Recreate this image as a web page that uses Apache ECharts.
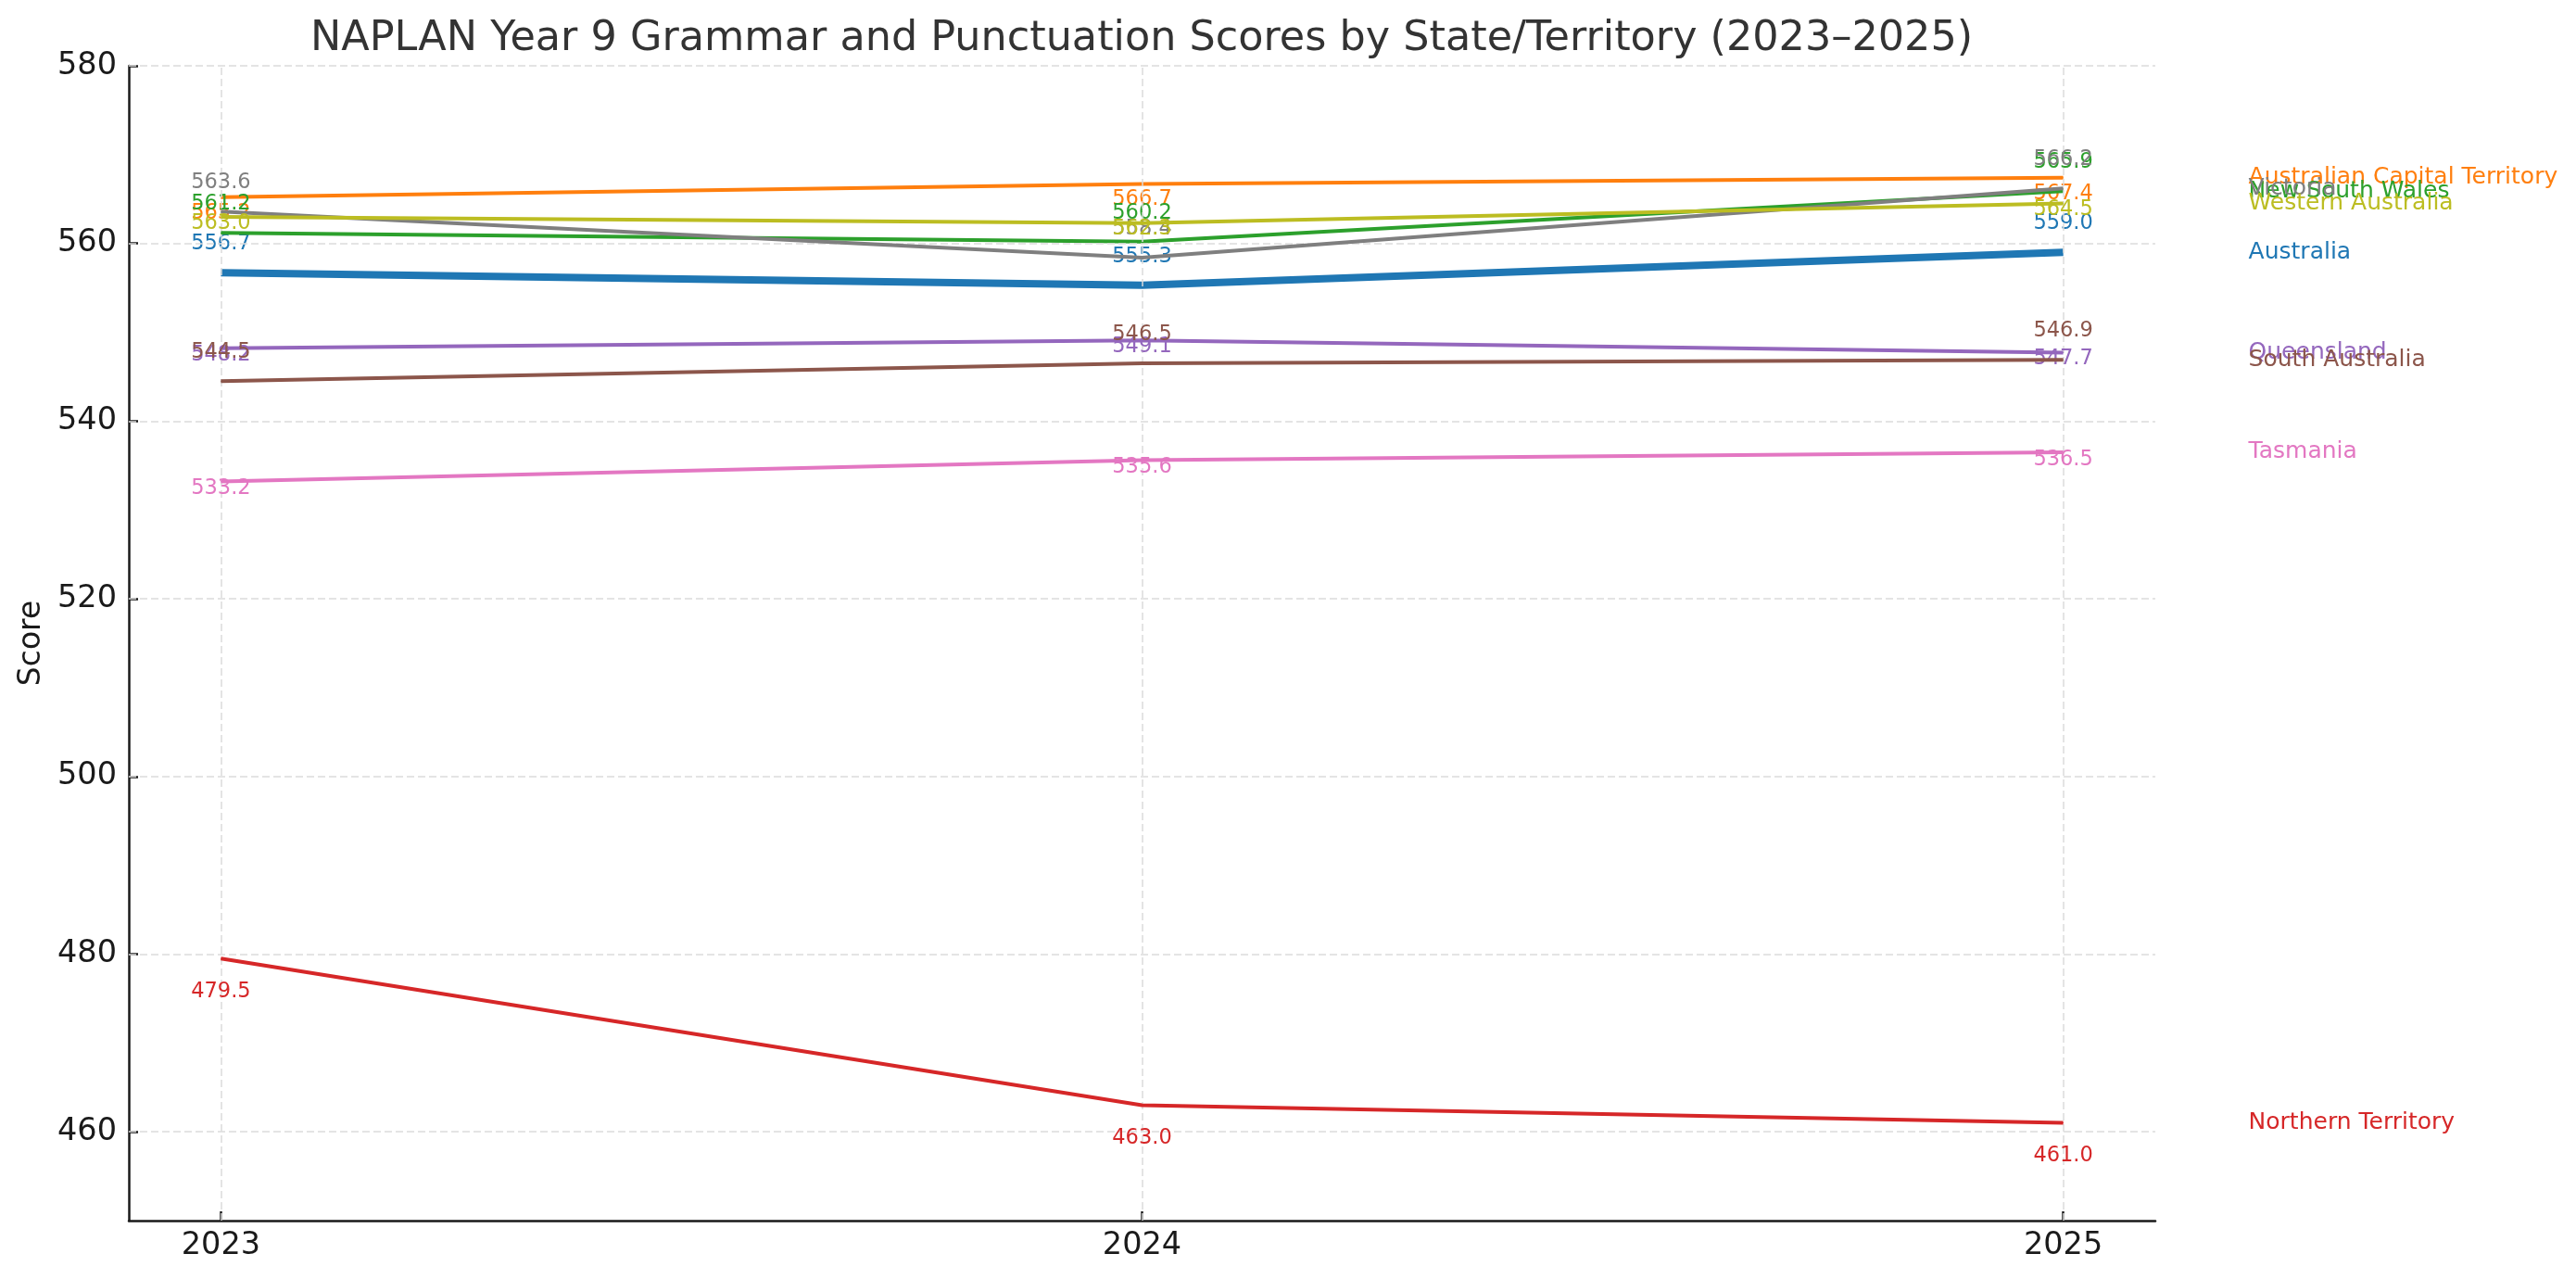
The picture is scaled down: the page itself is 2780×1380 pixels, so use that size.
<!DOCTYPE html>
<html>
<head>
<meta charset="utf-8">
<title>NAPLAN Year 9 Grammar and Punctuation</title>
<script src="https://cdn.jsdelivr.net/npm/echarts@6/dist/echarts.min.js"></script>
<style>
  html, body { margin: 0; padding: 0; background: #fff; }
  #chart { width: 2780px; height: 1380px; }
</style>
</head>
<body>
<div id="chart"></div>
<script>
// data
var years = [2023, 2024, 2025];
var yTicks = [460, 480, 500, 520, 540, 560, 580];
var seriesNames = ['Australia', 'Australian Capital Territory', 'New South Wales', 'Northern Territory',
  'Queensland', 'South Australia', 'Tasmania', 'Victoria', 'Western Australia'];
var australia = [556.7, 555.3, 559.0];
var act = [565.2, 566.7, 567.4];
var nsw = [561.2, 560.2, 565.9];
var nt = [479.5, 463.0, 461.0];
var qld = [548.2, 549.1, 547.7];
var sa = [544.5, 546.5, 546.9];
var tas = [533.2, 535.6, 536.5];
var vic = [563.6, 558.4, 566.2];
var wa = [563.0, 562.3, 564.5];

var seriesValues = [australia, act, nsw, nt, qld, sa, tas, vic, wa];
var colors = ['#1f77b4', '#ff7f0e', '#2ca02c', '#d62728', '#9467bd', '#8c564b', '#e377c2', '#7f7f7f', '#bcbd22'];
// vertical shift of the value labels, per series (px)
var labelDy = [-31, 17, -31, 36, 7, -31, 8, -31, 7];

var font = 'DejaVu Sans';
var gridLine = { type: [8, 4], color: '#dcdcdc', width: 1.5 };

var series = [{
  type: 'line',
  data: [],
  silent: true,
  z: 1,
  markLine: {
    silent: true,
    symbol: 'none',
    label: { show: false },
    lineStyle: gridLine,
    data: years.map(function (y) { return { xAxis: y }; })
      .concat(yTicks.map(function (v) { return { yAxis: v }; }))
  }
}];

seriesNames.forEach(function (name, i) {
  series.push({
    name: name,
    type: 'line',
    z: 2 + i,
    data: years.map(function (y, j) { return [y, seriesValues[i][j]]; }),
    symbol: 'circle',
    symbolSize: 1,
    lineStyle: { color: colors[i], width: i === 0 ? 8 : 4 },
    itemStyle: { color: colors[i] },
    label: {
      show: true,
      position: 'inside',
      offset: [0, labelDy[i]],
      color: colors[i],
      fontFamily: font,
      fontSize: 22.5,
      formatter: function (p) { return p.value[1].toFixed(1); }
    },
    endLabel: {
      show: true,
      formatter: '{a}',
      distance: 200,
      color: colors[i],
      fontFamily: font,
      fontSize: 25
    }
  });
});

var chart = echarts.init(document.getElementById('chart'));
chart.setOption({
  animation: false,
  backgroundColor: '#fff',
  title: {
    text: 'NAPLAN Year 9 Grammar and Punctuation Scores by State/Territory (2023\u20132025)',
    left: 1232,
    top: 20,
    padding: 0,
    textAlign: 'center',
    textStyle: { fontFamily: font, fontSize: 44.5, fontWeight: 'normal', color: '#333' }
  },
  grid: { left: 139, right: 454, top: 71, bottom: 63 },
  xAxis: {
    type: 'value',
    min: 2022.9,
    max: 2025.1,
    axisLine: { lineStyle: { color: '#1a1a1a', width: 2.5 } },
    axisTick: { inside: true, length: 10, customValues: years, lineStyle: { color: '#1a1a1a', width: 2.5 } },
    axisLabel: {
      customValues: years, margin: 10, fontFamily: font, fontSize: 33.5, color: '#1a1a1a',
      formatter: function (v) { return String(v); }
    },
    splitLine: { show: false }
  },
  yAxis: {
    type: 'value',
    min: 450,
    max: 580,
    name: 'Score',
    nameLocation: 'middle',
    nameGap: 86,
    nameTextStyle: { fontFamily: font, fontSize: 33, color: '#1a1a1a' },
    axisLine: { show: true, lineStyle: { color: '#1a1a1a', width: 2.5 } },
    axisTick: { show: true, inside: true, length: 10, customValues: yTicks, lineStyle: { color: '#1a1a1a', width: 2.5 } },
    axisLabel: { customValues: yTicks, margin: 13, fontFamily: font, fontSize: 33.5, color: '#1a1a1a' },
    splitLine: { show: false }
  },
  series: series
});
</script>
</body>
</html>
